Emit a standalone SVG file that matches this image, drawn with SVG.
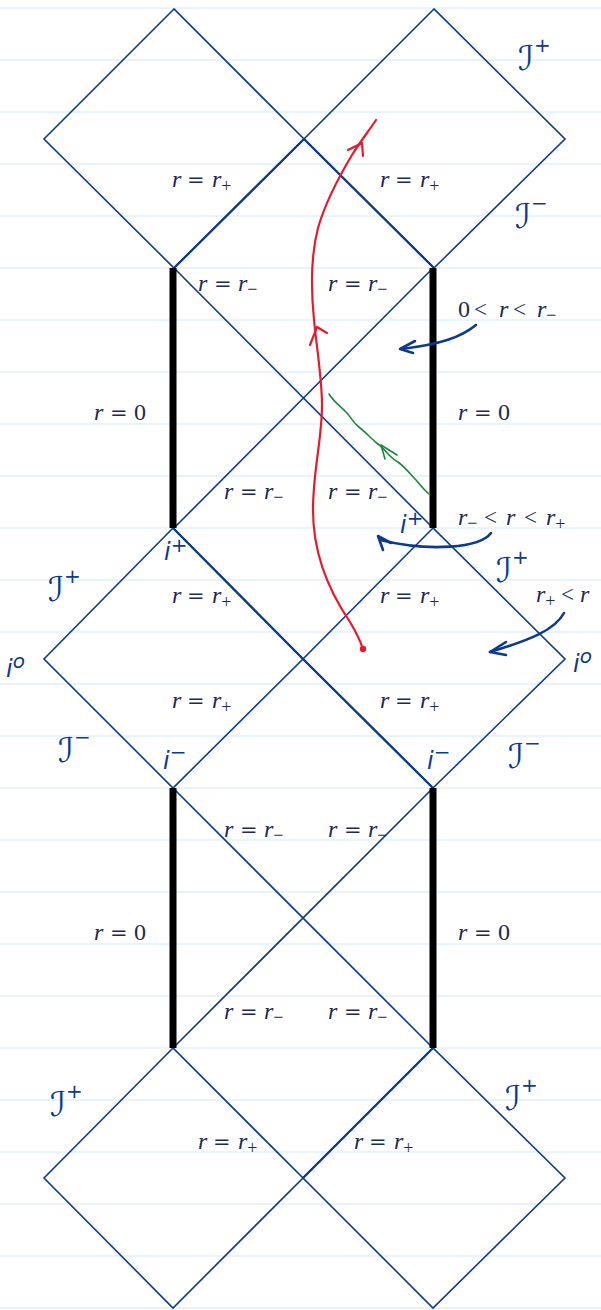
<svg xmlns="http://www.w3.org/2000/svg" width="601" height="1310" viewBox="0 0 601 1310">
<style>
.rule{stroke:#cdeaf9;stroke-width:1}
.edge{fill:none;stroke:#0c3b8e;stroke-width:1.6;stroke-linejoin:miter}
.hor{fill:none;stroke:#0c3b8e;stroke-width:2.3}
.sing{stroke:#000;stroke-width:7}
.m{font-family:"Liberation Serif",serif;font-style:italic;font-size:24px;fill:#1b2a55}
.eq{font-family:"DejaVu Serif",serif;font-style:normal;font-size:21px}
.lt{font-family:"Liberation Serif",serif;font-style:normal;font-size:23px}
.up{font-style:normal}
.sb{font-family:"Liberation Serif",serif;font-style:normal;font-size:18px}
.hw{font-family:"DejaVu Sans",sans-serif;fill:#0c3b8e}
.scri{font-size:34px}
.sup{font-size:20px}
.ii{font-size:24px;font-style:italic}
.red{fill:none;stroke:#e8192c;stroke-width:2.2;stroke-linecap:round;stroke-linejoin:round}
.grn{fill:none;stroke:#1a8a3a;stroke-width:1.6;stroke-linecap:round;stroke-linejoin:round}
.blu{fill:none;stroke:#0c3b8e;stroke-width:2.6;stroke-linecap:round;stroke-linejoin:round}
</style>
<rect width="601" height="1310" fill="#fff"/>
<g id="ruling">
<line class="rule" x1="0" y1="8" x2="601" y2="8"/><line class="rule" x1="0" y1="60" x2="601" y2="60"/><line class="rule" x1="0" y1="112" x2="601" y2="112"/><line class="rule" x1="0" y1="164" x2="601" y2="164"/><line class="rule" x1="0" y1="216" x2="601" y2="216"/><line class="rule" x1="0" y1="268" x2="601" y2="268"/><line class="rule" x1="0" y1="320" x2="601" y2="320"/><line class="rule" x1="0" y1="372" x2="601" y2="372"/><line class="rule" x1="0" y1="424" x2="601" y2="424"/><line class="rule" x1="0" y1="476" x2="601" y2="476"/><line class="rule" x1="0" y1="528" x2="601" y2="528"/><line class="rule" x1="0" y1="580" x2="601" y2="580"/><line class="rule" x1="0" y1="632" x2="601" y2="632"/><line class="rule" x1="0" y1="684" x2="601" y2="684"/><line class="rule" x1="0" y1="736" x2="601" y2="736"/><line class="rule" x1="0" y1="788" x2="601" y2="788"/><line class="rule" x1="0" y1="840" x2="601" y2="840"/><line class="rule" x1="0" y1="892" x2="601" y2="892"/><line class="rule" x1="0" y1="944" x2="601" y2="944"/><line class="rule" x1="0" y1="996" x2="601" y2="996"/><line class="rule" x1="0" y1="1048" x2="601" y2="1048"/><line class="rule" x1="0" y1="1100" x2="601" y2="1100"/><line class="rule" x1="0" y1="1152" x2="601" y2="1152"/><line class="rule" x1="0" y1="1204" x2="601" y2="1204"/><line class="rule" x1="0" y1="1256" x2="601" y2="1256"/><line class="rule" x1="0" y1="1308" x2="601" y2="1308"/>
</g>
<g id="connectors">
<path class="edge" d="M174,9 L44,139 L174,268 L304,139 Z"/>
<path class="edge" d="M434,9 L304,139 L434,268 L565,139 Z"/>
<path class="hor" d="M174,268 L304,139 L434,268"/>
<path class="edge" d="M174,268 L433,528 M433,268 L174,528"/>
<path class="edge" d="M173,528 L44,659 L173,788 L303,659 Z"/>
<path class="edge" d="M433,528 L303,659 L433,788 L565,659 Z"/>
<path class="hor" d="M173,528 L303,659 L433,788"/>
<path class="edge" d="M173,788 L433,1048 M433,788 L173,1048"/>
<path class="edge" d="M173,1048 L44,1178 L173,1308 L303,1178 Z"/>
<path class="edge" d="M433,1048 L303,1178 L433,1308 L565,1178 Z"/>
<path class="hor" d="M303,1178 L433,1048"/>
<line class="sing" x1="173" y1="268" x2="173" y2="528"/>
<line class="sing" x1="433" y1="268" x2="433" y2="528"/>
<line class="sing" x1="173" y1="788" x2="173" y2="1048"/>
<line class="sing" x1="433" y1="788" x2="433" y2="1048"/>
</g>
<g id="worldline">
<path class="red" d="M376,120 C368,132 360,142 352,155 C340,175 326,200 318,228 C311,255 311,290 314,320 C317,350 322,380 322,405 C322,440 313,470 313,510 C313,560 335,600 350,622 C356,632 360,640 363,649"/>
<polyline class="red" points="310,345 317,327 327,333"/>
<polyline class="red" points="348,150 362,143 363,156"/>
<circle cx="363" cy="649" r="3.2" fill="#e8192c"/>
</g>
<g id="light-ray">
<path class="grn" d="M329,394 C334,402 340,406 346,412 C352,418 352,422 360,428 C368,434 370,438 378,444 C386,450 390,458 398,462 C406,468 410,474 416,480 C421,486 424,490 429,494"/>
<polyline class="grn" points="397,455 381,445 385,459"/>
</g>
<g id="region-arrows">
<path class="blu" d="M476,325 C460,338 440,344 402,349"/>
<path class="blu" d="M415,341 L400,349 L413,353"/>
<path class="blu" d="M491,533 C480,548 430,552 380,540"/>
<path class="blu" d="M391,543 L378,536 L383,550"/>
<path class="blu" d="M564,613 C555,630 530,640 490,652"/>
<path class="blu" d="M506,642 L490,652 L506,655"/>
</g>
<g id="labels">
<text class="m" x="172" y="187">r<tspan class="eq" x="187">=</tspan><tspan x="212">r</tspan><tspan class="sb" dy="5">+</tspan></text>
<text class="m" x="380" y="187">r<tspan class="eq" x="395">=</tspan><tspan x="420">r</tspan><tspan class="sb" dy="5">+</tspan></text>
<text class="m" x="198" y="291">r<tspan class="eq" x="214">=</tspan><tspan x="238">r</tspan><tspan class="sb" dy="4">−</tspan></text>
<text class="m" x="328" y="291">r<tspan class="eq" x="344">=</tspan><tspan x="368">r</tspan><tspan class="sb" dy="4">−</tspan></text>
<text class="m" x="224" y="499">r<tspan class="eq" x="240">=</tspan><tspan x="264">r</tspan><tspan class="sb" dy="4">−</tspan></text>
<text class="m" x="328" y="499">r<tspan class="eq" x="344">=</tspan><tspan x="368">r</tspan><tspan class="sb" dy="4">−</tspan></text>
<text class="m" x="172" y="603">r<tspan class="eq" x="187">=</tspan><tspan x="212">r</tspan><tspan class="sb" dy="5">+</tspan></text>
<text class="m" x="380" y="603">r<tspan class="eq" x="395">=</tspan><tspan x="420">r</tspan><tspan class="sb" dy="5">+</tspan></text>
<text class="m" x="172" y="708">r<tspan class="eq" x="187">=</tspan><tspan x="212">r</tspan><tspan class="sb" dy="5">+</tspan></text>
<text class="m" x="380" y="708">r<tspan class="eq" x="395">=</tspan><tspan x="420">r</tspan><tspan class="sb" dy="5">+</tspan></text>
<text class="m" x="224" y="837">r<tspan class="eq" x="240">=</tspan><tspan x="264">r</tspan><tspan class="sb" dy="4">−</tspan></text>
<text class="m" x="328" y="837">r<tspan class="eq" x="344">=</tspan><tspan x="368">r</tspan><tspan class="sb" dy="4">−</tspan></text>
<text class="m" x="224" y="1019">r<tspan class="eq" x="240">=</tspan><tspan x="264">r</tspan><tspan class="sb" dy="4">−</tspan></text>
<text class="m" x="328" y="1019">r<tspan class="eq" x="344">=</tspan><tspan x="368">r</tspan><tspan class="sb" dy="4">−</tspan></text>
<text class="m" x="198" y="1149">r<tspan class="eq" x="213">=</tspan><tspan x="238">r</tspan><tspan class="sb" dy="5">+</tspan></text>
<text class="m" x="354" y="1149">r<tspan class="eq" x="369">=</tspan><tspan x="394">r</tspan><tspan class="sb" dy="5">+</tspan></text>
<text class="m" x="94" y="420">r<tspan class="eq" x="110">=</tspan><tspan class="up" x="134">0</tspan></text>
<text class="m" x="458" y="420">r<tspan class="eq" x="474">=</tspan><tspan class="up" x="498">0</tspan></text>
<text class="m" x="94" y="940">r<tspan class="eq" x="110">=</tspan><tspan class="up" x="134">0</tspan></text>
<text class="m" x="458" y="940">r<tspan class="eq" x="474">=</tspan><tspan class="up" x="498">0</tspan></text>
<text class="m" x="458" y="317"><tspan class="up">0</tspan><tspan class="lt" x="474">&lt;</tspan><tspan x="499">r</tspan><tspan class="lt" x="513">&lt;</tspan><tspan x="537">r</tspan><tspan class="sb" dy="4">−</tspan></text>
<text class="m" x="458" y="525">r<tspan class="sb" dy="4">−</tspan><tspan class="lt" x="484" dy="-4">&lt;</tspan><tspan x="506">r</tspan><tspan class="lt" x="524">&lt;</tspan><tspan x="546">r</tspan><tspan class="sb" dy="5">+</tspan></text>
<text class="m" x="536" y="602">r<tspan class="sb" dy="5">+</tspan><tspan class="lt" x="561" dy="-5">&lt;</tspan><tspan x="580">r</tspan></text>
</g>
<g id="scri-labels">
<text class="hw scri" x="518" y="70">ℐ<tspan class="sup" dy="-18">+</tspan></text>
<text class="hw scri" x="515" y="228">ℐ<tspan class="sup" dy="-18">−</tspan></text>
<text class="hw scri" x="48" y="601">ℐ<tspan class="sup" dy="-18">+</tspan></text>
<text class="hw scri" x="496" y="582">ℐ<tspan class="sup" dy="-18">+</tspan></text>
<text class="hw scri" x="58" y="762">ℐ<tspan class="sup" dy="-18">−</tspan></text>
<text class="hw scri" x="508" y="768">ℐ<tspan class="sup" dy="-18">−</tspan></text>
<text class="hw scri" x="50" y="1116">ℐ<tspan class="sup" dy="-18">+</tspan></text>
<text class="hw scri" x="505" y="1110">ℐ<tspan class="sup" dy="-18">+</tspan></text>
</g>
<g id="i-labels">
<text class="hw ii" x="164" y="560">i<tspan class="sup" font-size="14" dy="-8">+</tspan></text>
<text class="hw ii" x="400" y="533">i<tspan class="sup" font-size="16" dy="-8">+</tspan></text>
<text class="hw ii" x="6" y="677">i<tspan class="sup" font-size="16" dy="-9">o</tspan></text>
<text class="hw ii" x="573" y="672">i<tspan class="sup" font-size="16" dy="-9">o</tspan></text>
<text class="hw ii" x="163" y="769">i<tspan class="sup" font-size="16" dy="-10">−</tspan></text>
<text class="hw ii" x="427" y="769">i<tspan class="sup" font-size="16" dy="-10">−</tspan></text>
</g>
</svg>
